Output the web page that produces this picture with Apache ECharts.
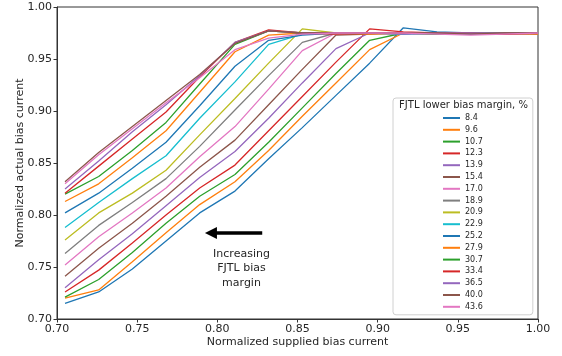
<!DOCTYPE html>
<html>
<head>
<meta charset="utf-8">
<script src="https://cdn.jsdelivr.net/npm/echarts@6/dist/echarts.min.js"></script>
<style>html,body{margin:0;padding:0;background:#fff}#c{width:562px;height:356px}</style>
</head>
<body>
<div id="c"></div>
<script>
// Normalized supplied bias current (x positions of the samples)
const xs = [0.705, 0.726, 0.747, 0.768, 0.789, 0.811, 0.832, 0.853, 0.874, 0.895, 0.916, 0.937, 0.958, 0.979, 1.000];

// Legend labels (FJTL lower bias margin, %)
const margins = ['8.4','9.6','10.7','12.3','13.9','15.4','17.0','18.9','20.9','22.9','25.2','27.9','30.7','33.4','36.5','40.0','43.6'];

// Normalized actual bias current, one array per margin
const m8_4  = [0.715, 0.726, 0.748, 0.775, 0.802, 0.823, 0.854, 0.884, 0.915, 0.946, 0.980, 0.976, 0.975, 0.975, 0.975];
const m9_6  = [0.720, 0.728, 0.755, 0.783, 0.810, 0.832, 0.862, 0.895, 0.927, 0.959, 0.975, 0.975, 0.975, 0.974, 0.975];
const m10_7 = [0.721, 0.738, 0.764, 0.792, 0.818, 0.839, 0.870, 0.903, 0.936, 0.968, 0.975, 0.975, 0.974, 0.975, 0.975];
const m12_3 = [0.726, 0.747, 0.773, 0.800, 0.826, 0.848, 0.881, 0.914, 0.947, 0.979, 0.976, 0.975, 0.975, 0.975, 0.974];
const m13_9 = [0.730, 0.757, 0.782, 0.809, 0.836, 0.861, 0.893, 0.927, 0.960, 0.975, 0.975, 0.974, 0.975, 0.975, 0.975];
const m15_4 = [0.741, 0.768, 0.792, 0.818, 0.846, 0.872, 0.906, 0.940, 0.973, 0.974, 0.975, 0.975, 0.975, 0.974, 0.975];
const m17_0 = [0.752, 0.779, 0.802, 0.826, 0.856, 0.885, 0.921, 0.958, 0.975, 0.975, 0.974, 0.975, 0.974, 0.975, 0.975];
const m18_9 = [0.763, 0.790, 0.812, 0.835, 0.866, 0.901, 0.934, 0.966, 0.975, 0.975, 0.975, 0.974, 0.975, 0.975, 0.974];
const m20_9 = [0.776, 0.802, 0.821, 0.843, 0.877, 0.912, 0.946, 0.979, 0.975, 0.975, 0.975, 0.975, 0.975, 0.975, 0.975];
const m22_9 = [0.788, 0.812, 0.835, 0.857, 0.893, 0.928, 0.964, 0.974, 0.975, 0.975, 0.974, 0.975, 0.975, 0.975, 0.975];
const m25_2 = [0.802, 0.821, 0.845, 0.870, 0.905, 0.943, 0.968, 0.973, 0.975, 0.975, 0.975, 0.975, 0.974, 0.975, 0.975];
const m27_9 = [0.813, 0.830, 0.855, 0.881, 0.918, 0.957, 0.973, 0.975, 0.975, 0.974, 0.975, 0.975, 0.975, 0.975, 0.974];
const m30_7 = [0.820, 0.837, 0.862, 0.889, 0.926, 0.964, 0.977, 0.975, 0.975, 0.975, 0.975, 0.974, 0.975, 0.975, 0.975];
const m33_4 = [0.821, 0.847, 0.873, 0.899, 0.933, 0.966, 0.978, 0.975, 0.974, 0.975, 0.975, 0.975, 0.975, 0.974, 0.975];
const m36_5 = [0.825, 0.852, 0.880, 0.906, 0.934, 0.966, 0.977, 0.975, 0.975, 0.975, 0.974, 0.975, 0.975, 0.975, 0.975];
const m40_0 = [0.832, 0.860, 0.885, 0.910, 0.935, 0.965, 0.977, 0.975, 0.975, 0.975, 0.975, 0.975, 0.974, 0.975, 0.975];
const m43_6 = [0.830, 0.858, 0.883, 0.908, 0.932, 0.959, 0.970, 0.974, 0.975, 0.975, 0.975, 0.974, 0.973, 0.974, 0.975];

const seriesValues = [m8_4, m9_6, m10_7, m12_3, m13_9, m15_4, m17_0, m18_9, m20_9, m22_9, m25_2, m27_9, m30_7, m33_4, m36_5, m40_0, m43_6];

// Axis ticks
const tickMin = 0.70, tickMax = 1.00, tickStep = 0.05;

// Annotation arrow (data coordinates)
const arrowFrom = [0.828, 0.7827];
const arrowTo = [0.796, 0.7827];

const tab10 = ['#1f77b4','#ff7f0e','#2ca02c','#d62728','#9467bd','#8c564b','#e377c2','#7f7f7f','#bcbd22','#17becf'];
const FONT = 'DejaVu Sans';
const TXT = '#262626';

const series = seriesValues.map((vals, i) => {
  const s = {
    name: margins[i],
    type: 'line',
    data: xs.map((x, j) => [x, vals[j]]),
    showSymbol: false,
    symbol: 'none',
    lineStyle: { width: 1.3, color: tab10[i % 10] },
    itemStyle: { color: tab10[i % 10] },
    emphasis: { disabled: true },
    animation: false,
    z: 2
  };
  if (i === 0) {
    s.markLine = {
      silent: true,
      animation: false,
      symbol: ['none', 'triangle'],
      symbolSize: [12, 12],
      lineStyle: { color: '#000', width: 3.5, type: 'solid' },
      label: { show: false },
      emphasis: { disabled: true },
      data: [[{ coord: arrowFrom }, { coord: arrowTo }]]
    };
  }
  return s;
});

const chart = echarts.init(document.getElementById('c'), null, { renderer: 'canvas' });
chart.setOption({
  animation: false,
  backgroundColor: '#fff',
  textStyle: { fontFamily: FONT },
  grid: { left: 57, right: 24, top: 7, bottom: 37, show: true, borderColor: '#333', borderWidth: 1, backgroundColor: 'transparent' },
  xAxis: {
    type: 'value', min: tickMin, max: tickMax, interval: tickStep,
    axisLine: { show: true, lineStyle: { color: '#333', width: 1 } },
    axisTick: { show: true, length: 3.5, lineStyle: { color: '#333' } },
    axisLabel: { formatter: v => v.toFixed(2), fontSize: 11, color: TXT, margin: 5, fontFamily: FONT },
    splitLine: { show: false },
    name: 'Normalized supplied bias current', nameLocation: 'middle', nameGap: 18, nameMoveOverlap: false,
    nameTextStyle: { fontSize: 11, color: TXT, fontFamily: FONT }
  },
  yAxis: {
    type: 'value', min: tickMin, max: tickMax, interval: tickStep,
    axisLine: { show: true, lineStyle: { color: '#333', width: 1 } },
    axisTick: { show: true, length: 3.5, lineStyle: { color: '#333' } },
    axisLabel: { formatter: v => v.toFixed(2), fontSize: 11, color: TXT, margin: 5, fontFamily: FONT },
    splitLine: { show: false },
    name: 'Normalized actual bias current', nameLocation: 'middle', nameGap: 31, nameMoveOverlap: false,
    nameTextStyle: { fontSize: 11, color: TXT, fontFamily: FONT }
  },
  legend: {
    orient: 'vertical', left: 393, top: 98,
    padding: [15, 50, 3, 50],
    itemWidth: 17, itemHeight: 2, itemGap: 1.8, icon: 'rect',
    textStyle: { fontSize: 8, color: TXT, fontFamily: FONT, lineHeight: 10 },
    backgroundColor: 'rgba(255,255,255,0.85)', borderColor: '#d0d0d0', borderWidth: 1, borderRadius: 3,
    selectedMode: false,
    data: margins
  },
  graphic: [
    { type: 'text', x: 463.5, y: 105.5, z: 100,
      style: { text: 'FJTL lower bias margin, %', align: 'center', verticalAlign: 'middle', fontSize: 10, fill: TXT, fontFamily: FONT } },
    { type: 'text', x: 241.5, y: 268.5, z: 100,
      style: { text: 'Increasing\nFJTL bias\nmargin', align: 'center', verticalAlign: 'middle', fontSize: 11, lineHeight: 14.4, fill: TXT, fontFamily: FONT } }
  ],
  series: series
});
</script>
</body>
</html>
